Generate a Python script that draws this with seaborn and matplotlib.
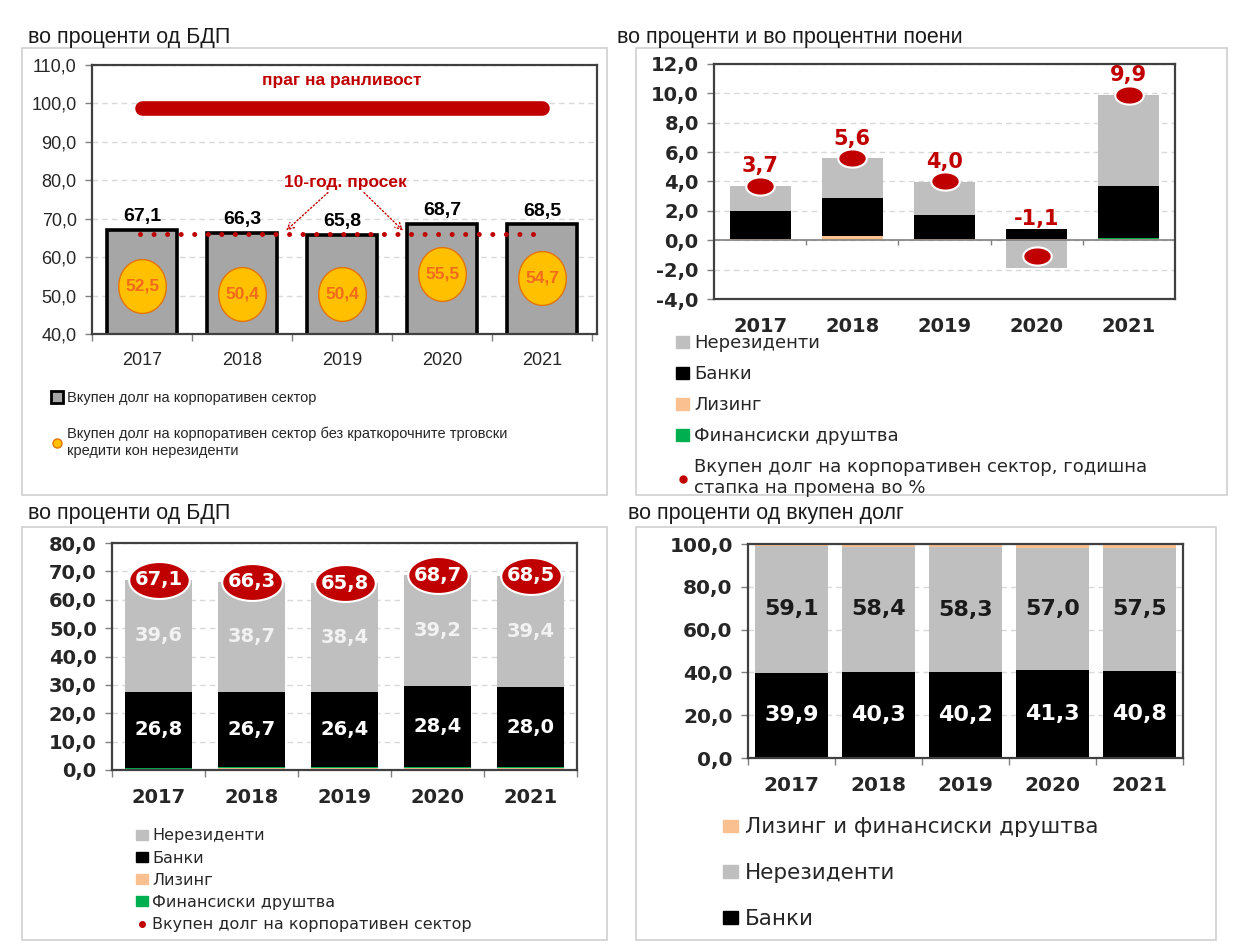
import numpy as np
import matplotlib
matplotlib.use('Agg')
import matplotlib.pyplot as plt
import seaborn as sns
from matplotlib.lines import Line2D
from matplotlib.patches import Patch, Rectangle
from matplotlib.path import Path
from matplotlib.ticker import FuncFormatter

# ---- податоци ----
years = ['2017', '2018', '2019', '2020', '2021']

# горе лево: вкупен долг, во % од БДП
total_debt = [67.1, 66.3, 65.8, 68.7, 68.5]
debt_excl_trade = [52.5, 50.4, 50.4, 55.5, 54.7]
vuln_threshold = 98.8
avg_10y = 66.0

# горе десно: годишна промена и придонеси (п.п.)
contrib_nonres = [1.7, 2.7, 2.3, -1.9, 6.2]
contrib_banks = [1.9, 2.6, 1.6, 0.7, 3.55]
contrib_leasing = [0.1, 0.3, 0.1, 0.1, 0.1]
contrib_fin = [0.0, 0.0, 0.0, 0.0, 0.05]
growth_total = [3.7, 5.6, 4.0, -1.1, 9.9]

# долу лево: структура, во % од БДП
gdp_leasing = [0.5, 0.6, 0.7, 0.8, 0.8]
gdp_fin = [0.2, 0.3, 0.3, 0.3, 0.3]
gdp_banks = [26.8, 26.7, 26.4, 28.4, 28.0]
gdp_nonres = [39.6, 38.7, 38.4, 39.2, 39.4]
gdp_total = [67.1, 66.3, 65.8, 68.7, 68.5]

# долу десно: структура, во % од вкупен долг
share_banks = [39.9, 40.3, 40.2, 41.3, 40.8]
share_nonres = [59.1, 58.4, 58.3, 57.0, 57.5]
share_leasing_fin = [1.0, 1.3, 1.5, 1.7, 1.7]

W, H = 1233, 947
RED = '#C00000'
GREY = '#BFBFBF'
DARKGREY = '#A6A6A6'
LEASING = '#FAC090'
FIN = '#00B050'
YELLOW = '#FFC000'
ORANGE = '#F26A1B'

sns.set_theme(style='white')
plt.rcParams['font.family'] = ['DejaVu Sans']
plt.rcParams['axes.unicode_minus'] = False

pos = np.arange(len(years))


def fmt(v):
    return f'{v:.1f}'.replace('.', ',')


def ellipse(ratio):
    t = np.linspace(0, 2 * np.pi, 80)
    return Path(np.column_stack([np.cos(t), ratio * np.sin(t)]), closed=True)


fig = plt.figure(figsize=(W / 100, H / 100), dpi=100)
fig.patch.set_facecolor('white')


def px_axes(x0, y0, x1, y1):
    return fig.add_axes([x0 / W, 1 - y1 / H, (x1 - x0) / W, (y1 - y0) / H])


def px(x, y):
    return x / W, 1 - y / H


# рамки на панелите
for x0, y0, x1, y1 in [(22, 48, 607, 495), (636, 48, 1227, 495),
                       (22, 527, 607, 940), (636, 527, 1216, 940)]:
    fig.add_artist(Rectangle(px(x0, y1), (x1 - x0) / W, (y1 - y0) / H,
                             transform=fig.transFigure, fill=False,
                             edgecolor='#D0D0D0', lw=1.2))


def style_axes(ax, spine='#404040', size=14, weight='bold', family='DejaVu Sans'):
    for s in ax.spines.values():
        s.set_color(spine)
        s.set_linewidth(1.6)
    ax.yaxis.grid(True, linestyle=(0, (4, 3)), color='#D9D9D9', lw=1)
    ax.xaxis.grid(False)
    ax.set_axisbelow(True)
    ax.yaxis.set_major_formatter(FuncFormatter(lambda v, p: fmt(v)))
    ax.set_xticks(pos)
    ax.set_xticklabels(years)
    ax.set_xticks(np.arange(-0.5, len(years), 1), minor=True)
    ax.tick_params(axis='x', which='major', bottom=False, pad=7)
    ax.tick_params(axis='x', which='minor', bottom=True, length=5, width=1, color='#808080')
    ax.tick_params(axis='y', left=True, length=5, width=1, color='#808080', pad=6)
    ax.set_xlim(-0.5, len(years) - 0.5)
    ax.set_xlabel('')
    ax.set_ylabel('')
    for lab in ax.get_xticklabels() + ax.get_yticklabels():
        lab.set_fontsize(size)
        lab.set_fontweight(weight)
        lab.set_fontfamily(family)
        lab.set_color('#262626')


# ================= горе лево =================
ax1 = px_axes(92, 65, 597, 334)
sns.barplot(x=years, y=total_debt, color=DARKGREY, saturation=1, width=0.7,
            edgecolor='black', linewidth=2.6, errorbar=None, ax=ax1)
ax1.set_ylim(40, 110)
ax1.set_yticks(np.arange(40, 111, 10))
style_axes(ax1, spine='#404040', size=13, weight='normal', family='Liberation Sans')

ax1.plot([0, 4], [vuln_threshold] * 2, color=RED, lw=10.5, solid_capstyle='round', zorder=3)
ax1.text(2, 106.0, 'праг на ранливост', color=RED, fontsize=12.5, fontweight='bold',
         ha='center', va='center', family='Liberation Sans')
ax1.plot([-0.02, 4.03], [avg_10y] * 2, color=RED, lw=3.6, linestyle=(0, (0.01, 2.7)),
         dash_capstyle='round', zorder=4)
ax1.text(2.03, 79.3, '10-год. просек', color=RED, fontsize=12.5, fontweight='bold',
         ha='center', va='center', family='Liberation Sans')
for tx, ty in [(1.42, 66.4), (2.63, 66.4)]:
    ax1.annotate('', xy=(tx, ty), xytext=((1.88 if tx < 2 else 2.2), 77.3),
                 arrowprops=dict(arrowstyle='->', color=RED, lw=1, linestyle=':'))

sns.scatterplot(x=pos, y=debt_excl_trade, marker=ellipse(1.13), s=1500, color=YELLOW,
                edgecolor='#E3740A', linewidth=1, ax=ax1, zorder=5, legend=False)
for i, v in enumerate(debt_excl_trade):
    ax1.text(i, v, fmt(v), color=ORANGE, fontsize=12.5, fontweight='bold',
             ha='center', va='center', family='Liberation Sans', zorder=6)
for i, v in enumerate(total_debt):
    ax1.text(i, v + 1.2, fmt(v), color='black', fontsize=14, fontweight='bold',
             ha='center', va='bottom', family='Liberation Sans', zorder=6)
ax1.set_xlim(-0.5, 4.55)

h1 = [Line2D([], [], ls='', marker='s', markersize=8, markerfacecolor=DARKGREY,
             markeredgecolor='black', markeredgewidth=2),
      Line2D([], [], ls='', marker='o', markersize=6.5, markerfacecolor=YELLOW,
             markeredgecolor='#E3740A')]
l1 = ['Вкупен долг на корпоративен сектор',
      'Вкупен долг на корпоративен сектор без краткорочните трговски\nкредити кон нерезиденти']
fig.legend(h1, l1, loc='upper left', bbox_to_anchor=px(38, 378), frameon=False,
           prop={'family': 'Liberation Sans', 'size': 10.5}, handlelength=0.8,
           handletextpad=0.3, labelspacing=1.5)

# ================= горе десно =================
ax2 = px_axes(714, 64, 1175, 299)
nr = np.array(contrib_nonres)
le = np.array(contrib_leasing)
fi = np.array(contrib_fin)
ba = np.array(contrib_banks)
pos_top = le + fi + ba
bw = 0.66
sns.barplot(x=years, y=le, color=LEASING, saturation=1, width=bw, linewidth=0,
            errorbar=None, ax=ax2)
sns.barplot(x=years, y=fi, bottom=le, color=FIN, saturation=1, width=bw, linewidth=0,
            errorbar=None, ax=ax2)
sns.barplot(x=years, y=ba, bottom=le + fi, color='black', saturation=1, width=bw,
            linewidth=0, errorbar=None, ax=ax2)
sns.barplot(x=years, y=nr, bottom=np.where(nr > 0, pos_top, 0), color=GREY, saturation=1,
            width=bw, linewidth=0, errorbar=None, ax=ax2)
ax2.set_ylim(-4, 12)
ax2.set_yticks(np.arange(-4, 13, 2))
style_axes(ax2, size=14)
ax2.tick_params(axis='x', which='minor', bottom=False)
ax2.axhline(0, color='#808080', lw=1.2, zorder=1.5)
ax2.vlines(np.arange(0.5, 4, 1), -0.3, 0, color='#808080', lw=1)

sns.scatterplot(x=pos, y=growth_total, marker=ellipse(0.64), s=420, color=RED,
                edgecolor='white', linewidth=1.5, ax=ax2, zorder=5, legend=False)
for i, v in enumerate(growth_total):
    if v >= 0:
        ax2.annotate(fmt(v), xy=(i, v), xytext=(0, 14), textcoords='offset points',
                     ha='center', va='center', color=RED, fontsize=15, fontweight='bold')
    else:
        ax2.annotate(fmt(v), xy=(i, pos_top[i]), xytext=(0, 7), textcoords='offset points',
                     ha='center', va='center', color=RED, fontsize=15, fontweight='bold')

h2 = [Patch(color=GREY), Patch(color='black'), Patch(color=LEASING), Patch(color=FIN),
      Line2D([], [], ls='', marker='o', markersize=5, color=RED)]
l2 = ['Нерезиденти', 'Банки', 'Лизинг', 'Финансиски друштва',
      'Вкупен долг на корпоративен сектор, годишна\nстапка на промена во %']
fig.legend(h2, l2, loc='upper left', bbox_to_anchor=px(660, 318), frameon=False,
           fontsize=13, handlelength=0.7, handleheight=0.6, handletextpad=0.3,
           labelspacing=0.72)

# ================= долу лево =================
ax3 = px_axes(112, 543, 577, 770)
gl = np.array(gdp_leasing)
gf = np.array(gdp_fin)
gb = np.array(gdp_banks)
gn = np.array(gdp_nonres)
bw = 0.72
sns.barplot(x=years, y=gl, color=LEASING, saturation=1, width=bw, linewidth=0,
            errorbar=None, ax=ax3)
sns.barplot(x=years, y=gf, bottom=gl, color=FIN, saturation=1, width=bw, linewidth=0,
            errorbar=None, ax=ax3)
sns.barplot(x=years, y=gb, bottom=gl + gf, color='black', saturation=1, width=bw,
            linewidth=0, errorbar=None, ax=ax3)
sns.barplot(x=years, y=gn, bottom=gl + gf + gb, color=GREY, saturation=1, width=bw,
            linewidth=0, errorbar=None, ax=ax3)
ax3.set_ylim(0, 80)
ax3.set_yticks(np.arange(0, 81, 10))
style_axes(ax3, size=14)
for i in pos:
    ax3.text(i, gl[i] + gf[i] + gb[i] / 2, fmt(gb[i]), color='white', fontsize=14,
             fontweight='bold', ha='center', va='center')
    ax3.text(i, gl[i] + gf[i] + gb[i] + gn[i] / 2, fmt(gn[i]), color='#F2F2F2', fontsize=14,
             fontweight='bold', ha='center', va='center')
sns.scatterplot(x=pos, y=gdp_total, marker=ellipse(0.61), s=1900, color=RED,
                edgecolor='white', linewidth=1.5, ax=ax3, zorder=5, legend=False)
for i, v in enumerate(gdp_total):
    ax3.text(i, v, fmt(v), color='white', fontsize=14, fontweight='bold',
             ha='center', va='center', zorder=6)

h3 = [Patch(color=GREY), Patch(color='black'), Patch(color=LEASING), Patch(color=FIN),
      Line2D([], [], ls='', marker='o', markersize=4, color=RED)]
l3 = ['Нерезиденти', 'Банки', 'Лизинг', 'Финансиски друштва',
      'Вкупен долг на корпоративен сектор']
fig.legend(h3, l3, loc='upper left', bbox_to_anchor=px(122, 814), frameon=False,
           fontsize=11.5, handlelength=0.7, handleheight=0.6, handletextpad=0.3,
           labelspacing=0.45)

# ================= долу десно =================
ax4 = px_axes(748, 544, 1183, 758)
sb = np.array(share_banks)
sn = np.array(share_nonres)
sl = np.array(share_leasing_fin)
bw = 0.83
sns.barplot(x=years, y=sb, color='black', saturation=1, width=bw, linewidth=0,
            errorbar=None, ax=ax4)
sns.barplot(x=years, y=sn, bottom=sb, color=GREY, saturation=1, width=bw, linewidth=0,
            errorbar=None, ax=ax4)
sns.barplot(x=years, y=sl, bottom=sb + sn, color=LEASING, saturation=1, width=bw,
            linewidth=0, errorbar=None, ax=ax4)
ax4.set_ylim(0, 100)
ax4.set_yticks(np.arange(0, 101, 20))
style_axes(ax4, size=14.5)
for i in pos:
    ax4.text(i, sb[i] / 2, fmt(sb[i]), color='white', fontsize=16, fontweight='bold',
             ha='center', va='center')
    ax4.text(i, sb[i] + sn[i] / 2, fmt(sn[i]), color='#1A1A1A', fontsize=16,
             fontweight='bold', ha='center', va='center')

h4 = [Patch(color=LEASING), Patch(color=GREY), Patch(color='black')]
l4 = ['Лизинг и финансиски друштва', 'Нерезиденти', 'Банки']
fig.legend(h4, l4, loc='upper left', bbox_to_anchor=px(704, 798), frameon=False,
           fontsize=15.5, handlelength=0.7, handleheight=0.5, handletextpad=0.3,
           labelspacing=1.2)

# ================= наслови =================
for x, y, t in [(28, 37, 'во проценти од БДП'),
                (617, 37, 'во проценти и во процентни поени'),
                (28, 514, 'во проценти од БДП'),
                (628, 514, 'во проценти од вкупен долг')]:
    fig.text(*px(x, y), t, fontsize=15.5, family='Liberation Sans', va='center', ha='left',
             color='#1A1A1A')

fig.savefig('out.png', dpi=100)
